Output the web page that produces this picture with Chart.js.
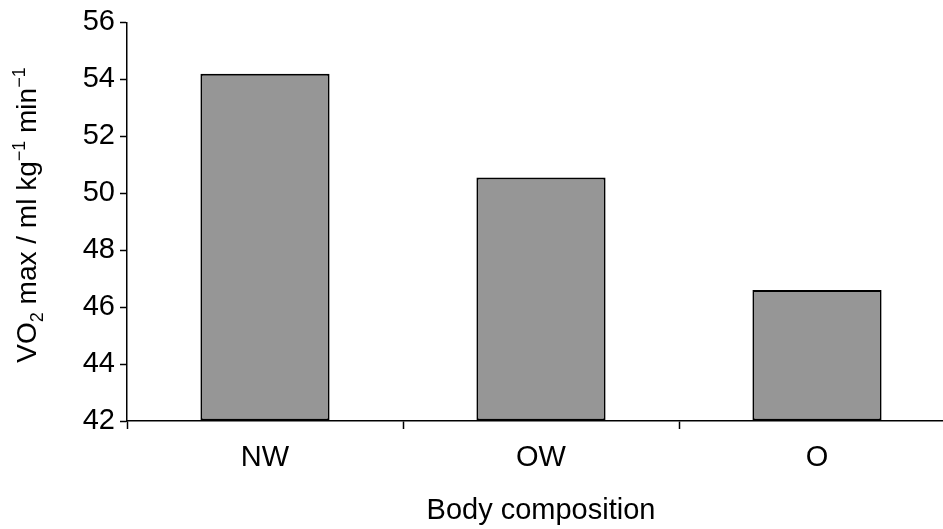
<!DOCTYPE html>
<html>
<head>
<meta charset="utf-8">
<script src="https://cdn.jsdelivr.net/npm/chart.js@4.4.1/dist/chart.umd.min.js"></script>
<style>
  html, body { margin: 0; padding: 0; background: #ffffff; overflow: hidden; }
  #wrap { width: 960px; height: 529px; position: relative; }
</style>
</head>
<body>
<div id="wrap"><canvas id="c"></canvas></div>
<script>
// ---- data ----
const categories = ['NW', 'OW', 'O'];
const vo2max = [54.2, 50.55, 46.6];
const yMin = 42;
const yMax = 56;
const yStep = 2;
const xTitle = 'Body composition';
const yTitleParts = [
  { text: 'VO', kind: 'normal' },
  { text: '2', kind: 'sub' },
  { text: ' max / ml kg', kind: 'normal' },
  { text: '\u22121', kind: 'sup' },
  { text: ' min', kind: 'normal' },
  { text: '\u22121', kind: 'sup' }
];

const FONT = '"Liberation Sans", Arial, sans-serif';
const FS = 29;

const yTitlePlugin = {
  id: 'yTitle',
  afterDraw(chart) {
    const ctx = chart.ctx;
    const small = Math.round(FS * 0.62);
    ctx.save();
    ctx.fillStyle = '#000';
    ctx.textBaseline = 'alphabetic';
    ctx.textAlign = 'left';
    let total = 0;
    const widths = yTitleParts.map(p => {
      ctx.font = (p.kind === 'normal' ? 28 : small) + 'px ' + FONT;
      const w = ctx.measureText(p.text).width;
      total += w;
      return w;
    });
    const cx = 36;
    const cy = 215;
    ctx.translate(cx, cy);
    ctx.rotate(-Math.PI / 2);
    let x = -total / 2;
    yTitleParts.forEach((p, i) => {
      ctx.font = (p.kind === 'normal' ? 28 : small) + 'px ' + FONT;
      let dy = 0;
      if (p.kind === 'sub') dy = 7;
      if (p.kind === 'sup') dy = -11;
      ctx.fillText(p.text, x, dy);
      x += widths[i];
    });
    ctx.restore();
  }
};

new Chart(document.getElementById('c'), {
  type: 'bar',
  data: {
    labels: categories,
    datasets: [{
      data: vo2max,
      base: yMin,
      backgroundColor: '#969696',
      borderColor: '#000000',
      borderWidth: 2,
      borderSkipped: false,
      barPercentage: 0.468,
      categoryPercentage: 1.0
    }]
  },
  options: {
    responsive: true,
    maintainAspectRatio: false,
    animation: false,
    layout: { padding: { top: 19, right: 5, bottom: 0, left: 0 } },
    plugins: {
      legend: { display: false },
      tooltip: { enabled: false }
    },
    scales: {
      x: {
        offset: true,
        grid: {
          offset: true,
          drawOnChartArea: false,
          drawTicks: true,
          tickLength: 8,
          tickWidth: 1.5,
          tickColor: '#000'
        },
        border: { display: true, color: '#000', width: 1.5 },
        ticks: {
          color: '#000',
          font: { family: FONT, size: FS },
          padding: 12,
          maxRotation: 0
        },
        title: {
          display: true,
          text: xTitle,
          color: '#000',
          font: { family: FONT, size: FS },
          padding: { top: 0, bottom: 1 }
        },
        afterFit(scale) { scale.height = 108; }
      },
      y: {
        min: yMin,
        max: yMax,
        grid: {
          drawOnChartArea: false,
          drawTicks: true,
          tickLength: 7,
          tickWidth: 1.5,
          tickColor: '#000'
        },
        border: { display: true, color: '#000', width: 1.5 },
        ticks: {
          stepSize: yStep,
          color: '#000',
          font: { family: FONT, size: FS },
          padding: 5
        },
        afterFit(scale) { scale.width = 127; }
      }
    }
  },
  plugins: [yTitlePlugin]
});
</script>
</body>
</html>
